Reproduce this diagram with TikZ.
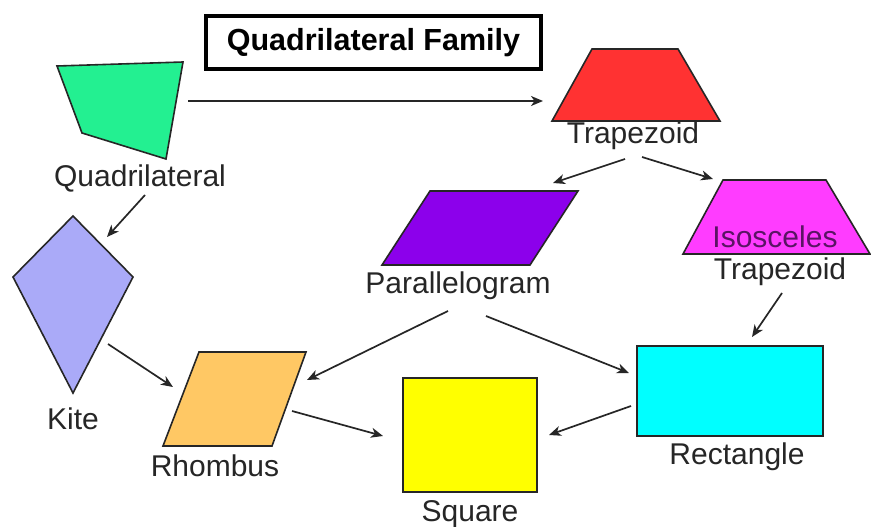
\documentclass[tikz,border=0pt]{standalone}
\usepackage{fontspec}
\setmainfont{Liberation Sans}
\usetikzlibrary{arrows.meta}
\definecolor{qgreen}{RGB}{35,240,145}
\definecolor{tred}{RGB}{255,50,50}
\definecolor{ppurple}{RGB}{140,0,235}
\definecolor{imag}{RGB}{255,60,255}
\definecolor{ilabel}{RGB}{90,20,100}
\definecolor{rcyan}{RGB}{0,255,255}
\definecolor{syellow}{RGB}{255,255,0}
\definecolor{klav}{RGB}{170,170,248}
\definecolor{rorange}{RGB}{255,200,100}
\tikzset{
  shapeline/.style={draw=black!85, line width=1.6pt, line join=miter},
  lbl/.style={font=\fontsize{30}{36}\selectfont, text=black!85, inner sep=0pt},
  conn/.style={draw=black!85, line width=1.7pt, -{Stealth[length=12pt,width=10pt,inset=3.5pt]}},
}
\begin{document}
\begin{tikzpicture}[x=1pt,y=-1pt]
\useasboundingbox[fill=white] (0,0) rectangle (871,527);
% title
\node[draw=black, line width=4pt, minimum width=335pt, minimum height=53pt, inner sep=0pt,
      font=\fontsize{30.5}{36}\selectfont\bfseries] (title) at (373.5,42.5) {Quadrilateral Family};
% shapes
\draw[shapeline, fill=qgreen] (57,66) -- (183,62) -- (166,159) -- (82,133) -- cycle;
\draw[shapeline, fill=tred] (592,49) -- (678,49) -- (720,121) -- (552,121) -- cycle;
\draw[shapeline, fill=ppurple] (430,191) -- (578,191) -- (530,265) -- (382,265) -- cycle;
\draw[shapeline, fill=imag] (723,180) -- (826,180) -- (870,254) -- (683,254) -- cycle;
\draw[shapeline, fill=rcyan] (637,346) rectangle (823,436);
\draw[shapeline, fill=syellow] (403,378) rectangle (537,492);
\draw[shapeline, fill=klav] (73,216) -- (133,277) -- (73,393) -- (13,277) -- cycle;
\draw[shapeline, fill=rorange] (199,352) -- (306,352) -- (272,446) -- (163,446) -- cycle;
% labels
\node[lbl] (lquad) at (140,178) {Quadrilateral};
\node[lbl] (ltrap) at (633,136) {Trapezoid};
\node[lbl] (lpar) at (458,286) {Parallelogram};
\node[lbl, text=ilabel] (liso) at (775,237) {Isosceles};
\node[lbl] (liso2) at (780,272) {Trapezoid};
\node[lbl] (lrect) at (737,457) {Rectangle};
\node[lbl] (lsq) at (470,514) {Square};
\node[lbl] (lkite) at (73,419) {Kite};
\node[lbl] (lrh) at (215,466) {Rhombus};
% connector end points
\coordinate (q1) at (188,101);  \coordinate (t1) at (543,101);
\coordinate (t2) at (625,159);  \coordinate (p1) at (553,183);
\coordinate (t3) at (642,157);  \coordinate (i1) at (713,179);
\coordinate (i2) at (782,293);  \coordinate (r1) at (752,337);
\coordinate (p2) at (448,311);  \coordinate (h1) at (307,380);
\coordinate (p3) at (486,316);  \coordinate (r2) at (629,373);
\coordinate (r3) at (631,406);  \coordinate (s1) at (549,435);
\coordinate (q2) at (145,195);  \coordinate (k1) at (107,237);
\coordinate (k2) at (108,344);  \coordinate (h2) at (173,387);
\coordinate (h3) at (292,411);  \coordinate (s2) at (383,436);
% connectors
\draw[conn] (q1) -- (t1);
\draw[conn] (t2) -- (p1);
\draw[conn] (t3) -- (i1);
\draw[conn] (i2) -- (r1);
\draw[conn] (p2) -- (h1);
\draw[conn] (p3) -- (r2);
\draw[conn] (r3) -- (s1);
\draw[conn] (q2) -- (k1);
\draw[conn] (k2) -- (h2);
\draw[conn] (h3) -- (s2);
\end{tikzpicture}
\end{document}
